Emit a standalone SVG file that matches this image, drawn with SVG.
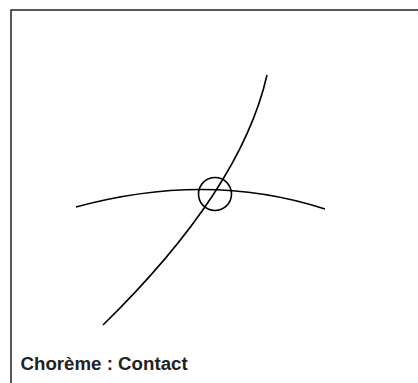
<svg xmlns="http://www.w3.org/2000/svg" width="418" height="383" viewBox="0 0 418 383">
<style>
.ln{fill:none;stroke:#000;stroke-width:1.6;stroke-linecap:butt}
.lbl{font-family:"Liberation Sans",Arial,sans-serif;font-weight:bold;font-size:18.7px;fill:#222}
</style>
<rect x="0" y="0" width="418" height="383" fill="#fff"/>
<rect x="11" y="10" width="420" height="400" fill="none" stroke="#222" stroke-width="1.5"/>
<g id="connectors">
<path class="ln" d="M76,207 Q208,171 325,209"/>
<path class="ln" d="M103,325 Q241,190 267,75"/>
</g>
<g id="contact">
<circle class="ln" cx="215" cy="194" r="16.5"/>
</g>
<g id="label">
<text class="lbl" x="20.5" y="370">Chorème : Contact</text>
</g>
</svg>
